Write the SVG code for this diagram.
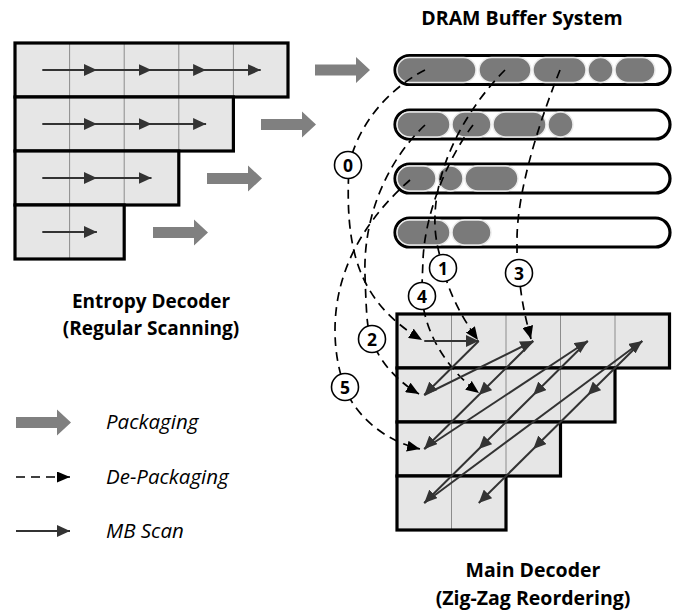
<svg xmlns="http://www.w3.org/2000/svg" xmlns:xlink="http://www.w3.org/1999/xlink" width="678" height="614" viewBox="0 0 678 614">
  <style>
    .cell { fill: #e6e6e6; stroke: none; }
    .grid { stroke: #8c8c8c; stroke-width: 1; }
    .frame { fill: none; stroke: #000; stroke-width: 3.2; stroke-linejoin: miter; }
    .buf { fill: #fff; stroke: #000; stroke-width: 3.2; }
    .pill { fill: #7a7a7a; stroke: #ececec; stroke-width: 1.5; }
    .pack { fill: #808080; }
    .scan { fill: none; stroke: #333; stroke-width: 2; marker-mid: url(#scanHead); marker-end: url(#scanHead); }
    .depack { fill: none; stroke: #000; stroke-width: 1.7; stroke-dasharray: 9 6; marker-end: url(#dashHead); }
    .tag { fill: #fff; stroke: #000; stroke-width: 1.6; }
    .tagtxt { font-family: "Open Sans", Lato, sans-serif; font-weight: bold; font-size: 17.5px; text-anchor: middle; fill: #000; }
    .title { font-family: "Open Sans", Lato, sans-serif; font-weight: bold; font-size: 19px; text-anchor: middle; fill: #000; }
    .legend { font-family: "Open Sans", Lato, sans-serif; font-style: italic; font-size: 20.5px; fill: #000; }
  </style>
  <defs>
    <marker id="scanHead" viewBox="0 0 13 12" refX="13" refY="6" markerWidth="13" markerHeight="12" markerUnits="userSpaceOnUse" orient="auto">
      <path d="M0,0 L13,6 L0,12 z" fill="#333"/>
    </marker>
    <marker id="dashHead" viewBox="0 0 13 11" refX="13" refY="5.5" markerWidth="13" markerHeight="11" markerUnits="userSpaceOnUse" orient="auto">
      <path d="M0,0 L13,5.5 L0,11 z" fill="#000"/>
    </marker>
    <!-- thick grey "packaging" arrow, origin at the tail centre -->
    <polygon id="packArrow" class="pack" points="0,-5.5 41,-5.5 41,-13 55,0 41,13 41,5.5 0,5.5"/>
  </defs>

  <!-- Entropy decoder: regular scanning of macroblock rows -->
  <g id="entropy-decoder">
    <g id="ed-row1">
      <rect class="cell" x="15" y="43" width="273" height="54"/>
      <path class="grid" d="M69.6,43V97M124.2,43V97M178.8,43V97M233.4,43V97"/>
      <rect class="frame" x="15" y="43" width="273" height="54"/>
    </g>
    <g id="ed-row2">
      <rect class="cell" x="15" y="97" width="218.4" height="54"/>
      <path class="grid" d="M69.6,97V151M124.2,97V151M178.8,97V151"/>
      <rect class="frame" x="15" y="97" width="218.4" height="54"/>
    </g>
    <g id="ed-row3">
      <rect class="cell" x="15" y="151" width="163.8" height="54"/>
      <path class="grid" d="M69.6,151V205M124.2,151V205"/>
      <rect class="frame" x="15" y="151" width="163.8" height="54"/>
    </g>
    <g id="ed-row4">
      <rect class="cell" x="15" y="205" width="109.2" height="54"/>
      <path class="grid" d="M69.6,205V259"/>
      <rect class="frame" x="15" y="205" width="109.2" height="54"/>
    </g>
    <polyline class="scan" points="42.3,70 96.9,70 151.5,70 206.1,70 260.7,70"/>
    <polyline class="scan" points="42.3,124 96.9,124 151.5,124 206.1,124"/>
    <polyline class="scan" points="42.3,178 96.9,178 151.5,178"/>
    <polyline class="scan" points="42.3,232 96.9,232"/>
    <text class="title" x="151" y="308">Entropy Decoder</text>
    <text class="title" x="151" y="335">(Regular Scanning)</text>
  </g>

  <!-- packaging transfers into DRAM -->
  <g id="packaging">
    <use xlink:href="#packArrow" href="#packArrow" transform="translate(315,70)"/>
    <use xlink:href="#packArrow" href="#packArrow" transform="translate(261,124.5)"/>
    <use xlink:href="#packArrow" href="#packArrow" transform="translate(207,178.5)"/>
    <use xlink:href="#packArrow" href="#packArrow" transform="translate(153,232.5)"/>
  </g>

  <!-- DRAM buffer system -->
  <g id="dram-buffers">
    <text class="title" x="522" y="25" style="font-size:19.5px">DRAM Buffer System</text>
    <g id="buffer1">
      <rect class="buf" x="395" y="55.5" width="275" height="29" rx="14.5"/>
      <rect class="pill" x="397" y="57.5" width="79" height="25" rx="12.5"/>
      <rect class="pill" x="479" y="57.5" width="52" height="25" rx="12.5"/>
      <rect class="pill" x="533" y="57.5" width="53" height="25" rx="12.5"/>
      <rect class="pill" x="588" y="57.5" width="25" height="25" rx="12.5"/>
      <rect class="pill" x="615" y="57.5" width="40" height="25" rx="12.5"/>
    </g>
    <g id="buffer2">
      <rect class="buf" x="395" y="110" width="275" height="29" rx="14.5"/>
      <rect class="pill" x="397" y="112" width="53" height="25" rx="12.5"/>
      <rect class="pill" x="452" y="112" width="39" height="25" rx="12.5"/>
      <rect class="pill" x="493" y="112" width="53" height="25" rx="12.5"/>
      <rect class="pill" x="548" y="112" width="25" height="25" rx="12.5"/>
    </g>
    <g id="buffer3">
      <rect class="buf" x="395" y="164" width="275" height="29" rx="14.5"/>
      <rect class="pill" x="397" y="166" width="39" height="25" rx="12.5"/>
      <rect class="pill" x="438" y="166" width="25" height="25" rx="12.5"/>
      <rect class="pill" x="465" y="166" width="53" height="25" rx="12.5"/>
    </g>
    <g id="buffer4">
      <rect class="buf" x="395" y="218" width="275" height="29" rx="14.5"/>
      <rect class="pill" x="397" y="220" width="53" height="25" rx="12.5"/>
      <rect class="pill" x="452" y="220" width="39" height="25" rx="12.5"/>
    </g>
  </g>

  <!-- Main decoder: zig-zag reordering -->
  <g id="main-decoder">
    <g id="md-row1">
      <rect class="cell" x="397" y="314" width="272.5" height="54"/>
      <path class="grid" d="M451.5,314V368M506,314V368M560.5,314V368M615,314V368"/>
      <rect class="frame" x="397" y="314" width="272.5" height="54"/>
    </g>
    <g id="md-row2">
      <rect class="cell" x="397" y="368" width="218" height="54"/>
      <path class="grid" d="M451.5,368V422M506,368V422M560.5,368V422"/>
      <rect class="frame" x="397" y="368" width="218" height="54"/>
    </g>
    <g id="md-row3">
      <rect class="cell" x="397" y="422" width="163.5" height="54"/>
      <path class="grid" d="M451.5,422V476M506,422V476"/>
      <rect class="frame" x="397" y="422" width="163.5" height="54"/>
    </g>
    <g id="md-row4">
      <rect class="cell" x="397" y="476" width="109" height="54"/>
      <path class="grid" d="M451.5,476V530"/>
      <rect class="frame" x="397" y="476" width="109" height="54"/>
    </g>
    <text class="title" x="533" y="577" style="font-size:19.5px">Main Decoder</text>
    <text class="title" x="533" y="605" style="font-size:19.5px">(Zig-Zag Reordering)</text>
  </g>

  <!-- de-packaging fetches, numbered in fetch order -->
  <g id="connectors">
    <g id="fetch0">
      <path class="depack" d="M425,70 C405,80 362,110 349,165 C345,245 355,300 422,340"/>
      <circle class="tag" cx="348" cy="165" r="13.5"/>
      <text class="tagtxt" x="348" y="171.5">0</text>
    </g>
    <g id="fetch1">
      <path class="depack" d="M505,70 C470,105 437,160 435,215 C434,240 440,255 443,268 C448,290 460,315 478,340"/>
      <circle class="tag" cx="443" cy="268" r="13.5"/>
      <text class="tagtxt" x="443" y="274.5">1</text>
    </g>
    <g id="fetch2">
      <path class="depack" d="M425,125 C388,160 363,215 365,275 S368,325 372,339 C377,358 395,380 419,394"/>
      <circle class="tag" cx="372" cy="339" r="13.5"/>
      <text class="tagtxt" x="372" y="345.5">2</text>
    </g>
    <g id="fetch3">
      <path class="depack" d="M560,70 C540,120 517,190 517,240 S518,265 519,273 C521,300 526,320 531,339"/>
      <circle class="tag" cx="519" cy="273" r="13.5"/>
      <text class="tagtxt" x="519" y="279.5">3</text>
    </g>
    <g id="fetch4">
      <path class="depack" d="M473,125 C450,155 425,210 423,260 S422,285 422,295 C424,335 450,372 479,393"/>
      <circle class="tag" cx="422" cy="296" r="13.5"/>
      <text class="tagtxt" x="422" y="302.5">4</text>
    </g>
    <g id="fetch5">
      <path class="depack" d="M410,180 C370,215 335,265 335,330 C335,355 340,375 345,387 C352,410 380,440 420,449"/>
      <circle class="tag" cx="345" cy="387" r="13.5"/>
      <text class="tagtxt" x="345" y="393.5">5</text>
    </g>

    <!-- zig-zag scan order through the macroblock -->
    <g id="zigzag">
      <polyline class="scan" points="424.25,341 478.75,341"/>
      <polyline class="scan" points="478.75,341 424.25,395"/>
      <polyline class="scan" points="424.25,395 533.25,341"/>
      <polyline class="scan" points="533.25,341 478.75,395 424.25,449"/>
      <polyline class="scan" points="424.25,449 587.75,341"/>
      <polyline class="scan" points="587.75,341 533.25,395 478.75,449 424.25,503"/>
      <polyline class="scan" points="424.25,503 642.25,341"/>
      <polyline class="scan" points="642.25,341 587.75,395 533.25,449 478.75,503"/>
    </g>
  </g>

  <!-- legend -->
  <g id="legend">
    <use xlink:href="#packArrow" href="#packArrow" transform="translate(16,422.5)"/>
    <text class="legend" x="106" y="429">Packaging</text>
    <path class="depack" d="M16,477 H70"/>
    <text class="legend" x="106" y="484">De-Packaging</text>
    <polyline class="scan" points="16,531 70,531"/>
    <text class="legend" x="106" y="538">MB Scan</text>
  </g>
</svg>
